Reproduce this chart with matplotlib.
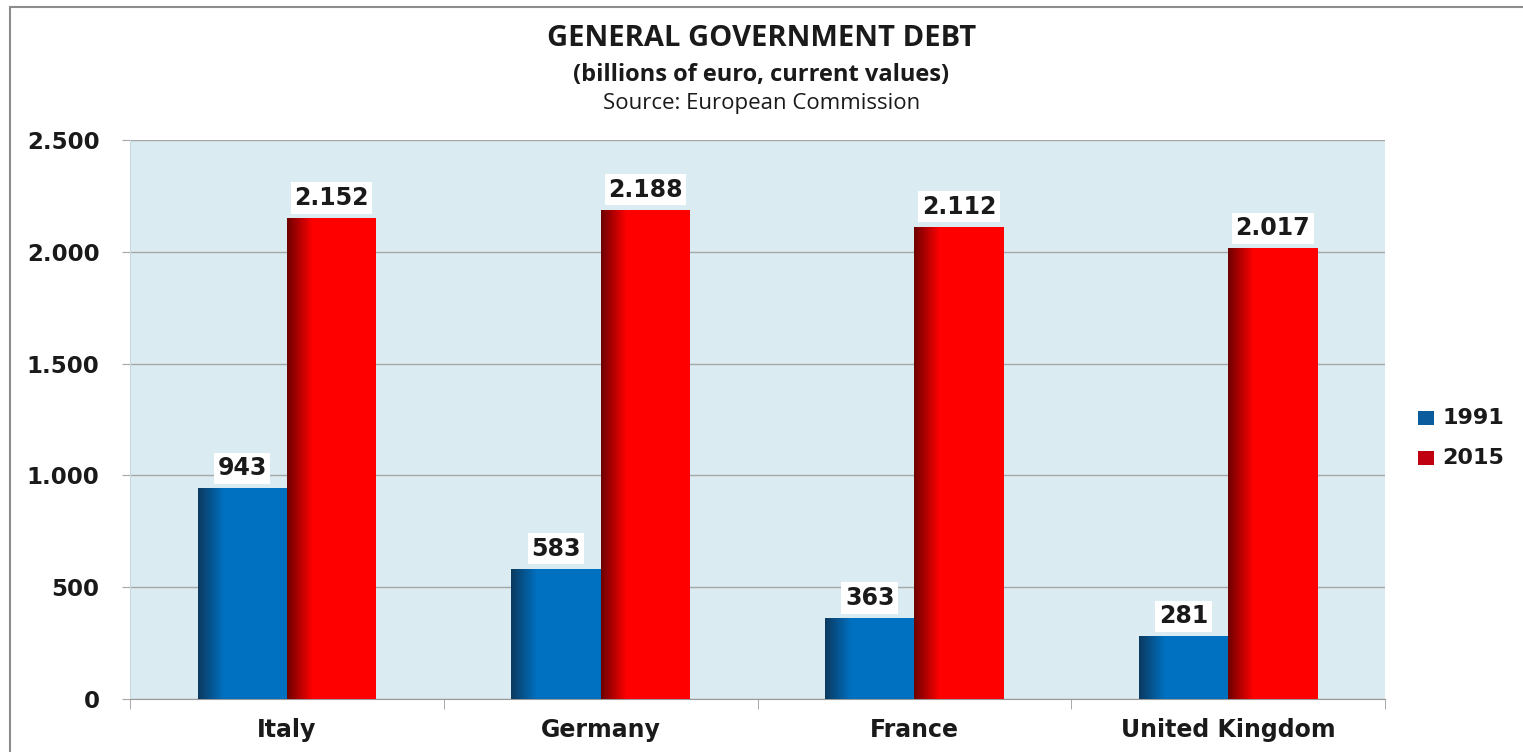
import matplotlib.pyplot as plt
import numpy as np
from matplotlib.patches import Rectangle
from matplotlib.colors import LinearSegmentedColormap
from matplotlib import font_manager

countries = ['Italy', 'Germany', 'France', 'United Kingdom']
debt_1991 = [943, 583, 363, 281]
debt_2015 = [2152, 2188, 2112, 2017]
labels_1991 = ['943', '583', '363', '281']
labels_2015 = ['2.152', '2.188', '2.112', '2.017']
yticks = [0, 500, 1000, 1500, 2000, 2500]
ytick_labels = ['0', '500', '1.000', '1.500', '2.000', '2.500']
series_names = ['1991', '2015']

names = {f.name for f in font_manager.fontManager.ttflist}
title_font = ['Liberation Sans Narrow', 'Open Sans', 'DejaVu Sans']
title_font = [f for f in title_font if f in names] or ['DejaVu Sans']

fig = plt.figure(figsize=(15.23, 7.52), dpi=100)
ax = fig.add_axes([0.0854, 0.0705, 0.8240, 0.7433])
ax.set_facecolor('#dbebf2')

x = np.arange(len(countries))
w = 0.285


def shaded_bars(xpos, vals, color, dark):
    bars = ax.bar(xpos, vals, w, color=color, zorder=3, linewidth=0)
    # darker strip on the left of each bar, like the bevel in the original
    cmap = LinearSegmentedColormap.from_list('g', [dark, color])
    grad = np.linspace(0, 1, 64).reshape(1, -1)
    for b in bars:
        im = ax.imshow(grad, cmap=cmap, aspect='auto', zorder=3.5,
                       extent=[b.get_x(), b.get_x() + b.get_width() * 0.28, 0, b.get_height()])
        im.set_clip_path(b)
    return bars


b1 = shaded_bars(x - w / 2, debt_1991, '#0070c0', '#0b3a60')
b2 = shaded_bars(x + w / 2, debt_2015, '#ff0000', '#6e0000')

for xi, v, t in zip(x - w / 2, debt_1991, labels_1991):
    ax.text(xi, v + 35, t, ha='center', va='bottom', fontsize=17, fontweight='bold',
            color='#1a1a1a', zorder=5, bbox=dict(facecolor='white', edgecolor='none', pad=2.5))
for xi, v, t in zip(x + w / 2, debt_2015, labels_2015):
    ax.text(xi, v + 35, t, ha='center', va='bottom', fontsize=17, fontweight='bold',
            color='#1a1a1a', zorder=5, bbox=dict(facecolor='white', edgecolor='none', pad=2.5))

ax.set_xlim(-0.5, len(countries) - 0.5)
ax.set_ylim(0, 2500)
ax.set_yticks(yticks)
ax.set_yticklabels(ytick_labels, fontsize=16.5, fontweight='bold', color='#1a1a1a')
ax.set_xticks(x)
ax.set_xticklabels(countries, fontsize=17, fontweight='bold', color='#1a1a1a')
ax.tick_params(axis='x', length=0, pad=14)
ax.tick_params(axis='y', length=6, pad=16, color='#a6a6a6')
ax.set_xticks(np.arange(len(countries) + 1) - 0.5, minor=True)
ax.tick_params(axis='x', which='minor', length=7, color='#9a9a9a')
ax.yaxis.grid(True, color='#a6a6a6', linewidth=1, zorder=1)
ax.set_axisbelow(True)
for s in ['top', 'right']:
    ax.spines[s].set_visible(False)
ax.spines['left'].set_color('#c8d8e0')
ax.spines['bottom'].set_color('#9a9a9a')

# legend
lx = 1418 / 1523
for i, (name, col) in enumerate(zip(series_names, ['#0a5c9c', '#c00010'])):
    yy = 1 - (418 + 40 * i) / 752
    fig.patches.append(Rectangle((lx, yy - 0.009), 0.0105, 0.018, transform=fig.transFigure,
                                 facecolor=col, edgecolor='none'))
    fig.text(lx + 0.016, yy, name, fontsize=16, fontweight='bold', color='#1a1a1a', va='center')

fig.text(0.5, 1 - 38 / 752, 'GENERAL GOVERNMENT DEBT', ha='center', va='center',
         fontsize=21, fontweight='bold', family=title_font, color='#1a1a1a')
fig.text(0.5, 1 - 75 / 752, '(billions of euro, current values)', ha='center', va='center',
         fontsize=17, fontweight='bold', family=title_font, color='#1a1a1a')
fig.text(0.5, 1 - 103 / 752, 'Source: European Commission', ha='center', va='center',
         fontsize=16, family=title_font, color='#1a1a1a')

# outer frame
fig.patches.append(Rectangle((10 / 1523, -0.01), 1.0, 1 - 7 / 752 + 0.01, transform=fig.transFigure,
                             facecolor='none', edgecolor='#8c8c8c', linewidth=1.5))

fig.savefig('out.png', dpi=100)
